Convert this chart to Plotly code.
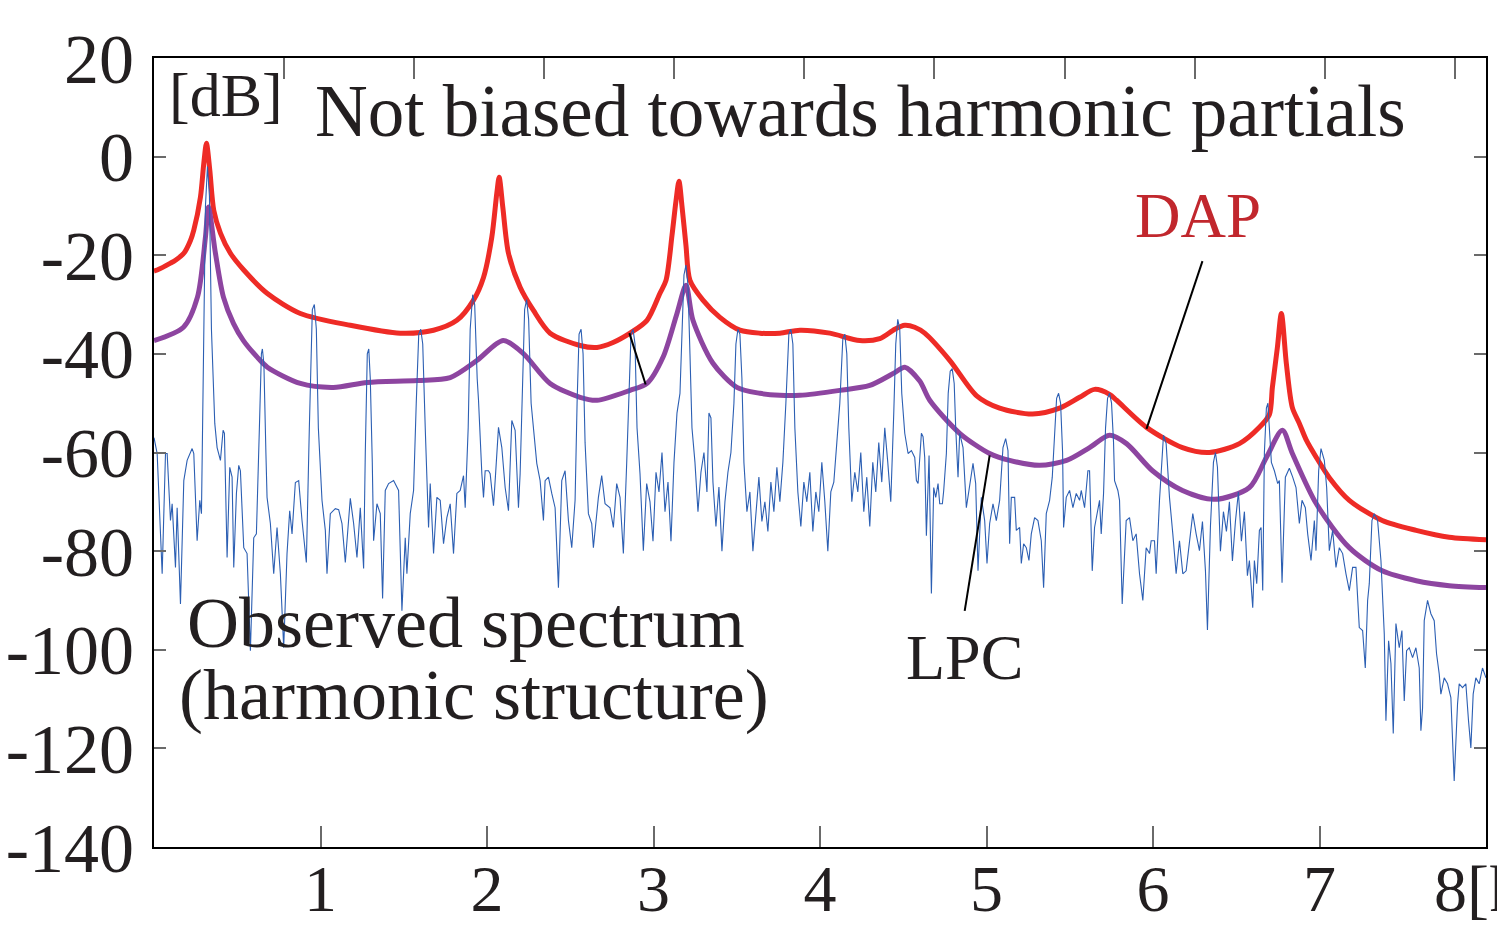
import plotly.graph_objects as go

# ---------------- data (frequency in kHz, level in dB) ----------------
obs_khz = [
    0.000, 0.019, 0.049, 0.069, 0.079, 0.099, 0.109, 0.129, 0.139, 0.159,
    0.179, 0.199, 0.229, 0.239, 0.259, 0.275, 0.285, 0.297, 0.309, 0.321,
    0.333, 0.345, 0.359, 0.365, 0.379, 0.399, 0.415, 0.423, 0.439, 0.455,
    0.469, 0.479, 0.495, 0.509, 0.519, 0.539, 0.559, 0.579, 0.599, 0.615,
    0.633, 0.645, 0.651, 0.660, 0.672, 0.679, 0.699, 0.719, 0.739, 0.759,
    0.779, 0.799, 0.815, 0.829, 0.849, 0.869, 0.889, 0.915, 0.933, 0.951,
    0.963, 0.975, 0.987, 1.009, 1.029, 1.039, 1.059, 1.089, 1.109, 1.129,
    1.149, 1.179, 1.199, 1.219, 1.239, 1.259, 1.269, 1.281, 1.290, 1.299,
    1.311, 1.319, 1.339, 1.359, 1.373, 1.389, 1.409, 1.439, 1.469, 1.489,
    1.509, 1.519, 1.539, 1.559, 1.575, 1.590, 1.602, 1.614, 1.629, 1.639,
    1.649, 1.659, 1.679, 1.699, 1.719, 1.739, 1.759, 1.779, 1.799, 1.819,
    1.839, 1.859, 1.869, 1.887, 1.899, 1.914, 1.926, 1.941, 1.949, 1.969,
    1.979, 1.989, 2.009, 2.019, 2.039, 2.049, 2.069, 2.089, 2.099, 2.109,
    2.129, 2.149, 2.169, 2.189, 2.199, 2.214, 2.226, 2.238, 2.250, 2.265,
    2.299, 2.319, 2.339, 2.349, 2.369, 2.389, 2.409, 2.429, 2.449, 2.469,
    2.489, 2.509, 2.529, 2.541, 2.553, 2.565, 2.577, 2.589, 2.609, 2.629,
    2.639, 2.669, 2.689, 2.709, 2.739, 2.759, 2.779, 2.799, 2.819, 2.839,
    2.853, 2.865, 2.877, 2.889, 2.901, 2.919, 2.939, 2.959,
    2.979, 2.997, 3.015, 3.033, 3.051, 3.069, 3.087, 3.105, 3.123, 3.141,
    3.159, 3.171, 3.183, 3.195, 3.207, 3.219, 3.231, 3.249, 3.267, 3.285,
    3.303, 3.321, 3.333, 3.345, 3.357, 3.375, 3.393, 3.411, 3.429, 3.447,
    3.465, 3.483, 3.495, 3.507, 3.519, 3.531, 3.543, 3.561, 3.579, 3.597,
    3.615, 3.633, 3.651, 3.669, 3.687, 3.705, 3.723, 3.741, 3.759, 3.777,
    3.795, 3.813, 3.825, 3.837, 3.849, 3.867, 3.885, 3.903, 3.921, 3.939,
    3.957, 3.975, 3.993, 4.011, 4.029, 4.047, 4.065, 4.083, 4.101, 4.119,
    4.137, 4.149, 4.161, 4.173, 4.191, 4.209, 4.227, 4.245, 4.263, 4.281,
    4.299, 4.317, 4.335, 4.353, 4.371, 4.389, 4.407, 4.425, 4.443, 4.455,
    4.467, 4.479, 4.491,
    4.509, 4.529, 4.549, 4.569, 4.579, 4.589, 4.609, 4.619, 4.629, 4.639,
    4.655, 4.669, 4.683, 4.695, 4.709, 4.719, 4.735, 4.743, 4.759, 4.770,
    4.782, 4.794, 4.806, 4.815, 4.829, 4.839, 4.859, 4.879, 4.899, 4.919,
    4.935, 4.949, 4.969, 4.989, 5.003, 5.019, 5.039, 5.059, 5.079, 5.099,
    5.115, 5.129, 5.139, 5.149, 5.169, 5.179, 5.199, 5.209, 5.223, 5.239,
    5.255, 5.269, 5.289, 5.309, 5.329, 5.343, 5.359, 5.379, 5.395, 5.409,
    5.421, 5.433, 5.445, 5.457, 5.463, 5.479, 5.499, 5.519, 5.539, 5.559,
    5.569, 5.589, 5.609, 5.619, 5.635, 5.649, 5.665, 5.679, 5.689, 5.703,
    5.715, 5.727, 5.739, 5.751, 5.763, 5.769, 5.789, 5.799, 5.815, 5.839,
    5.859, 5.879, 5.899, 5.919, 5.939, 5.959, 5.979, 5.989, 6.009, 6.019,
    6.039, 6.063, 6.079, 6.099, 6.119, 6.139, 6.159, 6.179, 6.199, 6.219,
    6.239, 6.259, 6.279,
    6.297, 6.315, 6.327, 6.345, 6.363, 6.375, 6.387, 6.405, 6.423, 6.441,
    6.459, 6.477, 6.495, 6.513, 6.531, 6.549, 6.567,
    6.579, 6.599, 6.609, 6.623, 6.639, 6.649, 6.659, 6.669, 6.681, 6.690,
    6.699, 6.711, 6.729, 6.749, 6.759, 6.775, 6.795, 6.819, 6.839, 6.859,
    6.879, 6.895, 6.915, 6.929, 6.949, 6.969, 6.979, 6.995, 7.009, 7.029,
    7.043, 7.059, 7.079, 7.099, 7.119, 7.139, 7.159, 7.179, 7.199, 7.219,
    7.239, 7.259, 7.275, 7.289, 7.299, 7.315, 7.329, 7.349, 7.369, 7.389,
    7.399, 7.415, 7.429, 7.443, 7.459, 7.479, 7.495, 7.509, 7.523, 7.539,
    7.559, 7.579, 7.599, 7.609, 7.619, 7.629, 7.649, 7.669, 7.689, 7.703,
    7.719, 7.729, 7.749, 7.769, 7.789, 7.809, 7.829, 7.839, 7.859, 7.879,
    7.895, 7.909, 7.923, 7.939, 7.959, 7.979, 8.000,
]
obs_db = [
    -57.0, -60.2, -84.6, -60.2, -60.2, -73.8, -70.4, -83.3, -71.2, -90.7,
    -65.7, -61.6, -59.2, -60.2, -77.9, -69.7, -72.4, -40.0, -10.0, -2.0,
    -8.0, -35.0, -51.5, -54.1, -59.0, -61.6, -55.5, -56.1, -81.3, -63.0,
    -65.0, -83.3, -68.3, -62.6, -63.7, -79.3, -80.5, -100.2, -77.3, -76.5,
    -55.0, -40.0, -39.0, -42.0, -60.0, -69.1, -74.4, -84.6, -75.2, -84.6,
    -99.6, -80.5, -71.8, -76.5, -66.1, -65.7, -73.8, -82.3, -55.0, -31.0,
    -30.0, -35.0, -55.0, -69.7, -75.8, -84.6, -72.4, -71.4, -71.6, -74.4,
    -82.3, -69.3, -74.4, -81.3, -71.2, -83.5, -60.0, -40.0, -39.0, -45.0,
    -62.0, -77.9, -70.4, -72.4, -89.6, -67.7, -66.3, -65.7, -67.7, -92.1,
    -77.3, -84.6, -72.4, -67.7, -50.0, -36.0, -35.0, -38.0, -55.0, -65.7,
    -75.2, -66.3, -80.5, -69.1, -69.7, -78.5, -73.2, -70.4, -80.5, -68.3,
    -67.7, -64.7, -71.2, -55.0, -35.0, -28.0, -30.0, -45.0, -49.4, -64.3,
    -69.1, -63.7, -63.7, -64.3, -70.8, -65.7, -54.9, -59.0, -63.7, -67.1,
    -71.8, -53.5, -55.5, -71.2, -64.3, -45.0, -31.0, -29.0, -33.0, -50.0,
    -62.2, -65.7, -73.8, -65.7, -65.0, -68.3, -71.2, -87.4, -65.7, -63.7,
    -73.8, -79.3, -69.7, -50.0, -36.0, -35.0, -40.0, -58.0, -72.4, -74.4,
    -79.3, -69.1, -64.7, -70.4, -71.2, -75.2, -66.3, -69.1, -80.5, -62.2,
    -50.0, -36.0, -35.0, -38.0, -55.0, -64.3, -79.9, -66.3,
    -70, -78, -64, -68, -60, -72, -66, -78, -62, -52,
    -48, -35, -24, -22, -26, -40, -55, -62, -72, -64,
    -60, -68, -52, -53, -66, -75, -67, -80, -70, -64,
    -60, -50, -38, -35, -36, -45, -62, -72, -68, -80,
    -72, -65, -74, -70, -76, -66, -72, -63, -70, -62,
    -50, -36, -35, -38, -55, -68, -75, -66, -70, -64,
    -76, -68, -72, -62, -70, -80, -68, -66, -58, -50,
    -37, -36, -40, -55, -70, -64, -68, -60, -72, -65,
    -75, -62, -68, -58, -66, -55, -62, -70, -52, -38,
    -33, -35, -48,
    -56.1, -60.2, -59.6, -61.0, -65.7, -66.3, -56.1, -56.8, -61.0, -76.9,
    -60.6, -88.6, -67.1, -69.1, -66.3, -70.4, -70.4, -67.7, -60.2, -48.0,
    -43.5, -43.0, -46.0, -55.0, -65.0, -56.1, -59.0, -71.2, -66.3, -62.2,
    -66.3, -84.0, -69.1, -73.8, -82.5, -74.4, -70.4, -73.8, -69.7, -59.0,
    -57.2, -59.6, -78.5, -69.1, -69.1, -75.8, -75.2, -82.5, -78.5, -79.3,
    -81.9, -76.5, -73.2, -73.8, -77.9, -87.4, -72.4, -69.7, -65.0, -55.0,
    -49.0, -48.0, -50.0, -60.0, -75.2, -69.1, -67.7, -71.2, -68.3, -69.7,
    -67.7, -71.2, -63.7, -63.7, -84.0, -75.2, -71.8, -69.7, -76.5, -68.3,
    -55.0, -49.0, -48.0, -50.0, -58.0, -65.7, -67.7, -69.7, -90.7, -73.8,
    -73.2, -77.9, -76.5, -84.6, -90.0, -79.3, -80.5, -77.9, -77.9, -84.6,
    -69.7, -56.5, -58.2, -69.1, -76.5, -84.6, -77.9, -84.6, -84.0, -77.9,
    -72.4, -76.5, -79.9,
    -74, -84, -96, -75, -62, -60, -63, -80, -72, -76,
    -70, -82, -74, -68, -78, -72, -85,
    -81.9, -91.5, -81.9, -86.6, -75.8, -75.2, -88.0, -60.0, -51.0, -50.0,
    -55.0, -62.0, -63.7, -66.3, -65.7, -86.4, -65.0, -63.2, -65.0, -67.1,
    -74.4, -69.7, -71.2, -76.5, -81.9, -73.8, -79.9, -63.7, -59.2, -61.6,
    -67.1, -79.9, -75.8, -83.3, -79.3, -80.5, -84.6, -88.0, -83.3, -83.3,
    -95.5, -96.1, -103.7, -90.0, -86.6, -73.8, -72.4, -73.8, -81.9, -96.8,
    -114.4, -98.2, -102.8, -117.0, -94.7, -99.6, -96.1, -110.4, -100.2, -99.6,
    -101.6, -99.6, -103.7, -116.4, -111.8, -94.1, -90.0, -92.7, -94.1, -100.8,
    -104.9, -109.0, -105.7, -106.9, -109.7, -126.6, -111.0, -106.9, -107.7, -106.9,
    -114.4, -119.9, -109.0, -105.7, -106.9, -103.7, -105.7,
]

dap_khz = [0.0, 0.019, 0.099, 0.129, 0.179, 0.219, 0.239, 0.279, 0.299, 0.315,
           0.335, 0.359, 0.399, 0.459, 0.539, 0.679, 0.879, 1.179, 1.479, 1.679,
           1.819, 1.919, 1.979, 2.029, 2.059, 2.073, 2.095, 2.129, 2.199, 2.279,
           2.379, 2.559, 2.661, 2.757, 2.859, 2.961, 3.039, 3.075, 3.111, 3.135,
           3.153, 3.171, 3.195, 3.219, 3.297, 3.399, 3.519, 3.639, 3.759, 3.879,
           4.059, 4.239, 4.359, 4.449, 4.509, 4.569, 4.629, 4.779, 4.941, 5.079,
           5.277, 5.439, 5.559, 5.649, 5.739, 5.781, 5.961, 6.177, 6.339, 6.519,
           6.639, 6.699, 6.717, 6.747, 6.771, 6.801, 6.837, 6.879, 6.921, 6.981,
           7.059, 7.179, 7.377, 7.581, 7.779, 8.0]
dap_db = [-23.2, -23.0, -21.6, -21.0, -19.6, -17.0, -14.9, -8.2, -1.4, 2.7,
          -2.7, -10.9, -15.5, -19.6, -23.0, -27.7, -31.8, -34.2, -35.8, -35.2,
          -33.2, -29.1, -24.5, -16.3, -7.4, -4.2, -10.3, -19.6, -26.5, -31.2,
          -35.8, -38.3, -38.7, -37.7, -35.8, -33.2, -27.7, -25.1, -16.0, -9.0,
          -5.0, -10.0, -18.0, -25.1, -29.1, -32.6, -35.2, -35.8, -35.8, -35.2,
          -35.8, -37.3, -36.9, -35.0, -34.2, -34.6, -35.8, -41.3, -48.5, -51.0,
          -52.2, -51.0, -48.8, -47.2, -48.2, -49.4, -54.9, -59.0, -60.0, -58.2,
          -54.9, -52.3, -46.8, -38.7, -31.8, -42.0, -50.9, -54.1, -57.5, -61.0,
          -65.1, -69.7, -73.8, -75.8, -77.2, -77.7]

lpc_khz = [0.0, 0.177, 0.261, 0.309, 0.327, 0.369, 0.417, 0.477, 0.537, 0.621,
           0.681, 0.879, 1.077, 1.281, 1.581, 1.779, 1.941, 2.097, 2.217, 2.379,
           2.559, 2.661, 2.859, 2.961, 3.057, 3.141, 3.195, 3.237, 3.357, 3.501,
           3.639, 3.759, 3.879, 4.119, 4.299, 4.449, 4.509, 4.599, 4.659, 4.839,
           5.019, 5.139, 5.319, 5.481, 5.619, 5.739, 5.841, 5.997, 6.177, 6.369,
           6.579, 6.681, 6.777, 6.837, 6.981, 7.179, 7.377, 7.581, 7.779, 8.0]
lpc_db = [-37.3, -34.6, -28.5, -16.3, -10.2, -19.6, -28.5, -33.8, -37.3, -40.7,
          -42.7, -46.0, -46.8, -45.8, -45.4, -44.8, -41.3, -37.3, -39.9, -46.0,
          -48.8, -49.4, -47.4, -46.0, -40.7, -31.8, -26.1, -33.2, -41.9, -46.8,
          -48.0, -48.4, -48.4, -47.4, -46.4, -43.8, -42.7, -45.5, -49.4, -56.1,
          -60.2, -61.6, -62.6, -61.6, -59.0, -56.5, -58.2, -63.7, -67.7, -69.5,
          -67.1, -61.0, -55.5, -60.2, -70.4, -79.3, -84.0, -86.0, -87.0, -87.4]

assert len(obs_khz) == len(obs_db)
assert len(dap_khz) == len(dap_db)
assert len(lpc_khz) == len(lpc_db)

x_tick_vals = [1, 2, 3, 4, 5, 6, 7]
y_tick_vals = [20, 0, -20, -40, -60, -80, -100, -120, -140]
top_tick_step = 0.78125
x_range = [0, 8]
y_range = [-140, 20]

# ---------------- styling ----------------
SERIF = "Liberation Serif, Times New Roman, serif"
TXT = "#231f20"
RED = "#ee2b26"
PURPLE = "#8d45a0"
BLUE = "#2c5fb3"
TICKC = "#6a6a6a"

fig = go.Figure()
fig.add_trace(go.Scatter(x=dap_khz, y=dap_db, mode="lines", name="DAP",
                         line=dict(color=RED, width=5, shape="spline", smoothing=0.8)))
fig.add_trace(go.Scatter(x=lpc_khz, y=lpc_db, mode="lines", name="LPC",
                         line=dict(color=PURPLE, width=5, shape="spline", smoothing=0.8)))
fig.add_trace(go.Scatter(x=obs_khz, y=obs_db, mode="lines", name="Observed",
                         line=dict(color=BLUE, width=1.1)))
# invisible trace so that the top axis is drawn
fig.add_trace(go.Scatter(x=x_range, y=[None, None], xaxis="x2", yaxis="y",
                         mode="lines", showlegend=False, hoverinfo="skip"))

fig.update_layout(
    width=1497, height=925,
    margin=dict(l=154, r=11, t=58, b=78, autoexpand=False),
    plot_bgcolor="white", paper_bgcolor="white",
    showlegend=False,
    xaxis=dict(range=x_range, tickvals=x_tick_vals,
               ticktext=[str(v) for v in x_tick_vals],
               ticks="inside", ticklen=21, tickwidth=1.5, tickcolor=TICKC,
               showline=True, linecolor="black", linewidth=2, mirror=True,
               showgrid=False, zeroline=False, ticklabelstandoff=-17,
               automargin=False,
               tickfont=dict(family=SERIF, size=66, color=TXT)),
    xaxis2=dict(range=x_range, overlaying="x", side="top", anchor="y",
                tick0=0, dtick=top_tick_step, ticks="inside", ticklen=21,
                tickwidth=1.5, tickcolor=TICKC, showticklabels=False,
                showline=False, showgrid=False, zeroline=False, automargin=False),
    yaxis=dict(range=y_range, tickvals=y_tick_vals,
               ticktext=[str(v) for v in y_tick_vals],
               ticks="inside", ticklen=12, tickwidth=1.5, tickcolor=TICKC,
               showline=True, linecolor="black", linewidth=2, mirror="ticks",
               showgrid=False, zeroline=False, ticklabelstandoff=4,
               automargin=False,
               tickfont=dict(family=SERIF, size=70, color=TXT)),
)

def label(text, x, y, size, color=TXT):
    fig.add_annotation(x=x, y=y, xref="x", yref="y", text=text, showarrow=False,
                       xanchor="center", yanchor="middle",
                       font=dict(family=SERIF, size=size, color=color))

label("[dB]", 0.435, 12.5, 62)
label("Not biased towards harmonic partials", 4.245, 9.2, 73)
label("DAP", 6.273, -12.1, 63, color="#c1272d")
label("Observed spectrum", 1.875, -94.5, 72)
label("(harmonic structure)", 1.923, -109.1, 72)
label("LPC", 4.869, -101.6, 64)

# unit text after the last tick (partly cut by the figure edge, as in the source)
fig.add_annotation(x=0.9595, y=-0.053, xref="paper", yref="paper", text="8[kHz]",
                   showarrow=False, xanchor="left", yanchor="middle",
                   font=dict(family=SERIF, size=66, color=TXT))

for (x0, y0, x1, y1) in [(6.297, -21.2, 5.961, -55.2),
                         (5.019, -60.6, 4.869, -92.1),
                         (2.855, -35.8, 2.953, -46.2)]:
    fig.add_shape(type="line", x0=x0, y0=y0, x1=x1, y1=y1, xref="x", yref="y",
                  line=dict(color="black", width=2))

fig.write_html("out.html")
